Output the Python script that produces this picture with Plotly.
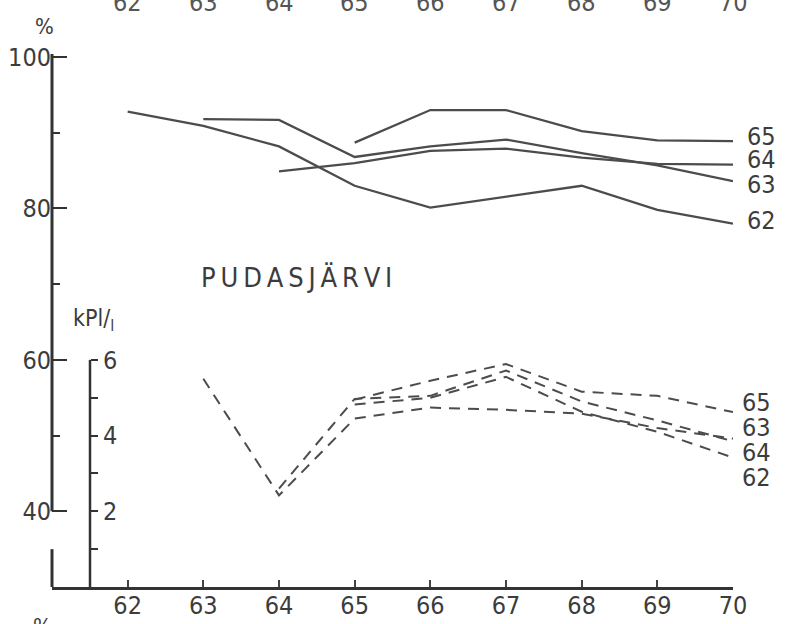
import plotly.graph_objects as go

# ---------------- data ----------------
years = [62, 63, 64, 65, 66, 67, 68, 69, 70]

# solid lines: percent (left axis)
pct_62 = [92.8, 90.9, 88.2, 83.0, 80.1, 81.5, 83.0, 79.8, 78.0]
pct_63 = [None, 91.8, 91.7, 86.8, 88.2, 89.1, 87.3, 85.7, 83.6]
pct_64 = [None, None, 84.9, 86.0, 87.6, 87.9, 86.7, 85.9, 85.8]
pct_65 = [None, None, None, 88.7, 93.0, 93.0, 90.2, 89.0, 88.9]

# dashed lines: kPl/l (inner axis)
kpl_63 = [None, 5.5, 2.42, 4.45, 4.74, 4.68, 4.58, 4.2, 3.92]
kpl_64 = [None, None, 2.6, 4.97, 5.05, 5.72, 4.9, 4.4, 3.85]
kpl_62 = [None, None, None, 4.82, 5.0, 5.55, 4.63, 4.1, 3.42]
kpl_65 = [None, None, None, 4.95, 5.45, 5.89, 5.16, 5.05, 4.62]

pct_ticks = [40, 60, 80, 100]
pct_minor = [50, 70, 90]
kpl_ticks = [2, 4, 6]
kpl_minor = [1, 3, 5]
title = "PUDASJÄRVI"

# ---------------- geometry ----------------
W, H = 786, 624
PL, PR, PT, PB = 52, 733, 54, 587
X0, X1 = 61, 70
Y0, Y1 = 30, 100.4
K1 = (Y1 - 30) / 5.0
KPL_POS = (90 - PL) / (PR - PL)

def px_paper(px):
    return (px - PL) / (PR - PL)

def py_paper(py):
    return (PB - py) / (PB - PT)

FONT = "DejaVu Sans Condensed, Liberation Sans Narrow, Liberation Sans, sans-serif"
INK = "#3c3c3c"
LINE = "#4c4c4c"

fig = go.Figure()

for ys in [pct_62, pct_63, pct_64, pct_65]:
    fig.add_trace(go.Scatter(x=years, y=ys, mode="lines", yaxis="y",
                             line=dict(color=LINE, width=2.3),
                             showlegend=False, hoverinfo="skip"))
for ys in [kpl_62, kpl_63, kpl_64, kpl_65]:
    fig.add_trace(go.Scatter(x=years, y=ys, mode="lines", yaxis="y2",
                             line=dict(color=LINE, width=2, dash="11px,8px"),
                             showlegend=False, hoverinfo="skip"))

shapes = [
    dict(type="line", xref="paper", yref="y", x0=0, x1=0, y0=40, y1=Y1,
         line=dict(color="#333", width=3)),
    dict(type="line", xref="paper", yref="y", x0=0, x1=0, y0=30, y1=35,
         line=dict(color="#333", width=3)),
    dict(type="line", xref="paper", yref="y2", x0=KPL_POS, x1=KPL_POS, y0=0, y1=6,
         line=dict(color="#333", width=2.5)),
]

ann = []
def txt(text, px, py, size=25, color=INK, xanchor="center"):
    ann.append(dict(text=text, x=px_paper(px), y=py_paper(py), xref="paper", yref="paper",
                    showarrow=False, xanchor=xanchor, yanchor="middle",
                    font=dict(family=FONT, size=size, color=color)))

# end labels solid
for lab, py in [("65", 137), ("64", 160), ("63", 184), ("62", 221)]:
    txt(lab, 745, py, size=25, xanchor="left")
# end labels dashed
for lab, py in [("65", 402), ("63", 427), ("64", 452), ("62", 477)]:
    txt(lab, 740, py, size=25, xanchor="left")

txt("\u2009".join(list(title)), 296, 277, size=27)
txt("kPl/<sub>l</sub>", 93, 320, size=23)
txt("%", 44, 26, size=22)
txt("%", 42, 626, size=22)
# cut-off year labels of the chart above
for yv in years:
    ann.append(dict(text=str(yv), x=yv, y=py_paper(3), xref="x", yref="paper",
                    showarrow=False, xanchor="center", yanchor="middle",
                    font=dict(family=FONT, size=25, color="#555")))

fig.update_layout(
    width=W, height=H,
    margin=dict(l=PL, r=W - PR, t=PT, b=H - PB, pad=0, autoexpand=False),
    paper_bgcolor="white", plot_bgcolor="white",
    showlegend=False,
    font=dict(family=FONT, size=25, color=INK),
    xaxis=dict(range=[X0, X1], tickvals=years, ticks="inside", ticklen=7,
               tickwidth=2, tickcolor="#444", showline=True, linewidth=3,
               linecolor="#333", showgrid=False, zeroline=False, automargin=False,
               ticklabelstandoff=-6,
               tickfont=dict(family=FONT, size=25, color=INK)),
    yaxis=dict(range=[Y0, Y1], tickvals=pct_ticks, ticks="inside", ticklen=15,
               tickwidth=2, tickcolor="#333", showline=False, showgrid=False,
               zeroline=False, automargin=False,
               minor=dict(tickvals=pct_minor, ticks="inside", ticklen=8,
                          tickwidth=2, tickcolor="#333", showgrid=False),
               tickfont=dict(family=FONT, size=25, color=INK)),
    yaxis2=dict(range=[0, K1], overlaying="y", anchor="free", position=KPL_POS,
                side="right", tickvals=kpl_ticks,
                ticks="outside", ticklen=7, tickwidth=2, tickcolor="#333",
                minor=dict(tickvals=kpl_minor, ticks="outside", ticklen=7,
                           tickwidth=2, tickcolor="#333", showgrid=False),
                showline=False, showgrid=False, zeroline=False, automargin=False,
                tickfont=dict(family=FONT, size=25, color=INK)),
    shapes=shapes, annotations=ann,
)

fig.write_html("out.html")
